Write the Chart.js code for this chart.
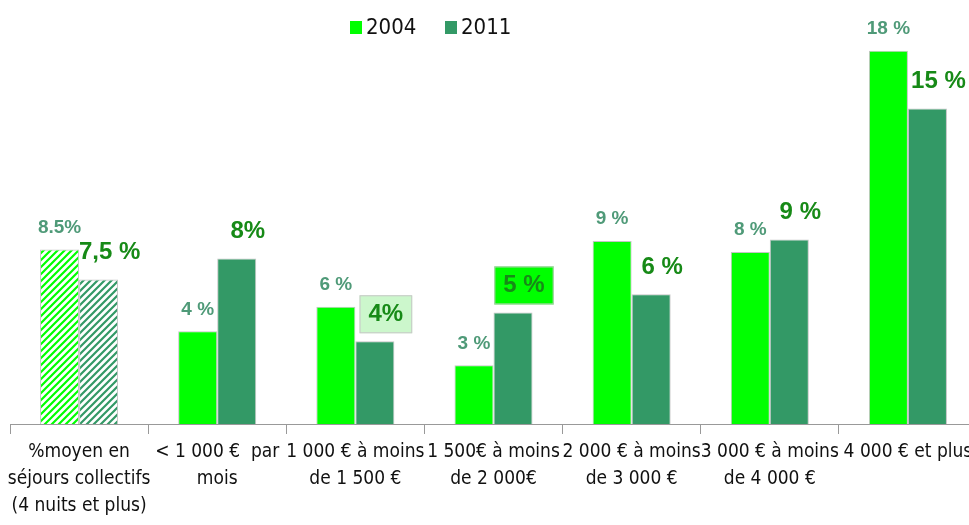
<!DOCTYPE html>
<html>
<head>
<meta charset="utf-8">
<script src="https://cdn.jsdelivr.net/npm/chart.js@4"></script>
<style>
  html, body { margin: 0; padding: 0; background: #fff; overflow: hidden; }
  #wrap { width: 980px; height: 525px; }
</style>
</head>
<body>
<div id="wrap"><canvas id="chart"></canvas></div>
<script>
const categories = [
  ['%moyen en', 'séjours collectifs', '(4 nuits et plus)'],
  ['< 1 000 €  par', 'mois'],
  ['1 000 € à moins', 'de 1 500 €'],
  ['1 500€ à moins', 'de 2 000€'],
  ['2 000 € à moins', 'de 3 000 €'],
  ['3 000 € à moins', 'de 4 000 €'],
  ['4 000 € et plus']
];
const seriesNames = ['2004', '2011'];
const values2004 = [8.42, 4.47, 5.65, 2.83, 8.82, 8.30, 18.0];
const values2011 = [6.97, 7.98, 3.99, 5.38, 6.26, 8.90, 15.22];
const labels2004 = ['8.5%', '4 %', '6 %', '3 %', '9 %', '8 %', '18 %'];
const labels2011 = ['7,5 %', '8%', '4%', '5 %', '6 %', '9 %', '15 %'];

const GREEN = '#00ff00';
const SEA = '#339966';
const COND = '"DejaVu Sans Condensed", "Liberation Sans", Arial, sans-serif';
const SANS = '"Liberation Sans", Arial, sans-serif';
// box behind some 2011 labels (null = no box)
const boxFill2011 = [null, null, '#ccf7cc', GREEN, null, null, null];

function hatch(color) {
  const c = document.createElement('canvas');
  c.width = 7; c.height = 7;
  const g = c.getContext('2d');
  g.strokeStyle = color;
  g.lineWidth = 2.2;
  g.beginPath();
  g.moveTo(-1, 8); g.lineTo(8, -1);
  g.moveTo(-2, 2); g.lineTo(2, -2);
  g.moveTo(5, 9); g.lineTo(9, 5);
  g.stroke();
  return g.createPattern(c, 'repeat');
}

const fill2004 = values2004.map((v, i) => i === 0 ? hatch(GREEN) : GREEN);
const fill2011 = values2011.map((v, i) => i === 0 ? hatch(SEA) : SEA);

const legendPlugin = {
  id: 'topLegend',
  afterDraw(chart) {
    const ctx = chart.ctx;
    const colors = [GREEN, SEA];
    let x = 350;
    ctx.save();
    ctx.font = '22px ' + COND;
    ctx.textBaseline = 'middle';
    seriesNames.forEach((name, i) => {
      ctx.fillStyle = colors[i];
      ctx.fillRect(x, 21, 12, 13);
      ctx.fillStyle = '#111';
      ctx.fillText(name, x + 16, 28);
      x += 95;
    });
    ctx.restore();
  }
};

const valueLabels = {
  id: 'valueLabels',
  afterDatasetsDraw(chart) {
    const ctx = chart.ctx;
    ctx.save();
    ctx.textAlign = 'center';
    ctx.textBaseline = 'middle';
    chart.getDatasetMeta(0).data.forEach((bar, i) => {
      ctx.font = 'bold 19px ' + SANS;
      ctx.fillStyle = '#4f9a78';
      ctx.fillText(labels2004[i], bar.x, bar.y - 22);
    });
    chart.getDatasetMeta(1).data.forEach((bar, i) => {
      ctx.font = 'bold 24px ' + SANS;
      const tx = bar.x + 11, ty = bar.y - 27;
      if (boxFill2011[i]) {
        const w = ctx.measureText(labels2011[i]).width + 18;
        ctx.fillStyle = boxFill2011[i];
        ctx.fillRect(tx - w / 2, ty - 19, w, 38);
        ctx.strokeStyle = '#c8c8c8';
        ctx.lineWidth = 1;
        ctx.strokeRect(tx - w / 2 + 0.5, ty - 18.5, w - 1, 37);
      }
      ctx.fillStyle = '#178a17';
      ctx.fillText(labels2011[i], tx, ty);
    });
    ctx.restore();
  }
};

new Chart(document.getElementById('chart'), {
  type: 'bar',
  data: {
    labels: categories,
    datasets: [
      { label: seriesNames[0], data: values2004, backgroundColor: fill2004,
        borderColor: '#c4c4c4', borderWidth: 1 },
      { label: seriesNames[1], data: values2011, backgroundColor: fill2011,
        borderColor: '#c4c4c4', borderWidth: 1 }
    ]
  },
  options: {
    responsive: true,
    maintainAspectRatio: false,
    animation: false,
    layout: { padding: { left: 10, right: 3, top: 40, bottom: 0 } },
    categoryPercentage: 0.565,
    barPercentage: 1,
    plugins: {
      legend: { display: false },
      tooltip: { enabled: false }
    },
    scales: {
      x: {
        grid: { offset: true, drawOnChartArea: false, tickLength: 10, color: '#999' },
        border: { color: '#999' },
        ticks: {
          maxRotation: 0, autoSkip: false, padding: 5, color: '#111',
          font: { family: COND, size: 19, lineHeight: 1.42 }
        },
        afterFit(scale) {
          scale.height = 101;
          scale.paddingLeft = 0;
          scale.paddingRight = 0;
        }
      },
      y: { display: false, min: 0, max: 18.52 }
    }
  },
  plugins: [legendPlugin, valueLabels]
});
</script>
</body>
</html>
